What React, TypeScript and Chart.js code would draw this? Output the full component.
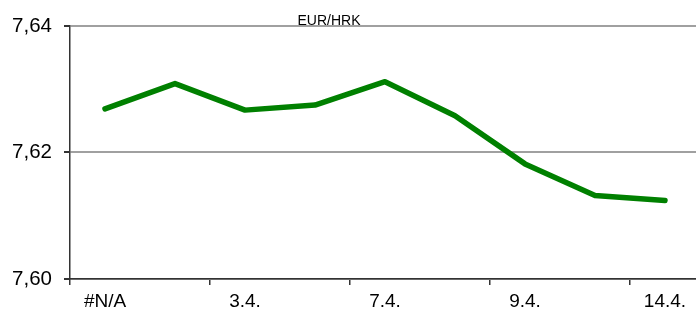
import React, { useEffect, useRef } from "react";
import { Chart, registerables } from "chart.js";

Chart.register(...registerables);

const categories = ["#N/A", "2.4.", "3.4.", "6.4.", "7.4.", "8.4.", "9.4.", "10.4.", "14.4."];
const eurHrk = [7.6269, 7.6309, 7.6267, 7.6275, 7.6312, 7.6258, 7.6182, 7.6132, 7.6124];
const yTicks = [7.6, 7.62, 7.64];
const titleText = "EUR/HRK";

const FONT = "'Liberation Sans', Arial, sans-serif";

const titlePlugin = {
  id: "smallTitle",
  afterDraw(chart: any) {
    const ctx = chart.ctx;
    ctx.save();
    ctx.font = `14px ${FONT}`;
    ctx.fillStyle = "#000";
    ctx.textAlign = "center";
    ctx.textBaseline = "alphabetic";
    ctx.fillText(titleText, 329, 24.5);
    ctx.restore();
  },
};

export default function App() {
  const ref = useRef<HTMLCanvasElement>(null);
  useEffect(() => {
    if (!ref.current) return;
    const chart = new Chart(ref.current, {
      type: "line",
      data: {
        labels: categories,
        datasets: [
          {
            data: eurHrk,
            borderColor: "#008000",
            borderWidth: 5.5,
            pointRadius: 0,
            tension: 0,
            borderJoinStyle: "round",
            borderCapStyle: "round",
          },
        ],
      },
      options: {
        animation: false,
        responsive: false,
        maintainAspectRatio: false,
        layout: { padding: { top: 26, right: 4, left: 0, bottom: 0 } },
        plugins: { legend: { display: false }, title: { display: false }, tooltip: { enabled: false } },
        scales: {
          x: {
            offset: true,
            grid: {
              offset: true,
              drawOnChartArea: false,
              drawTicks: true,
              tickLength: 6,
              color: (c: any) => (c.index % 2 === 0 ? "#333" : "rgba(0,0,0,0)"),
              lineWidth: 1.5,
            },
            border: { display: true, color: "#333", width: 1.5 },
            ticks: {
              autoSkip: false,
              maxRotation: 0,
              padding: 5,
              color: "#000",
              font: { family: FONT, size: 19 },
              callback: (_v: any, i: number) => (i % 2 === 0 ? categories[i] : ""),
            },
            afterFit: (s: any) => {
              s.height = 32;
            },
          },
          y: {
            min: yTicks[0],
            max: yTicks[yTicks.length - 1],
            afterBuildTicks: (s: any) => {
              s.ticks = yTicks.map((v) => ({ value: v }));
            },
            grid: {
              color: "#a0a0a0",
              lineWidth: 2,
              tickColor: "#333",
              tickLength: 6,
              drawTicks: true,
            },
            border: { display: true, color: "#333", width: 1.5 },
            ticks: {
              padding: 12,
              color: "#000",
              font: { family: FONT, size: 20.5 },
              callback: (v: any) => Number(v).toFixed(2).replace(".", ","),
            },
            afterFit: (s: any) => {
              s.width = 70;
            },
          },
        },
      },
      plugins: [titlePlugin],
    });
    return () => chart.destroy();
  }, []);
  return (
    <div style={{ position: "fixed", left: 0, top: 0, width: 704, height: 311, background: "#fff" }}>
      <canvas ref={ref} width={704} height={311} style={{ display: "block" }} />
    </div>
  );
}
